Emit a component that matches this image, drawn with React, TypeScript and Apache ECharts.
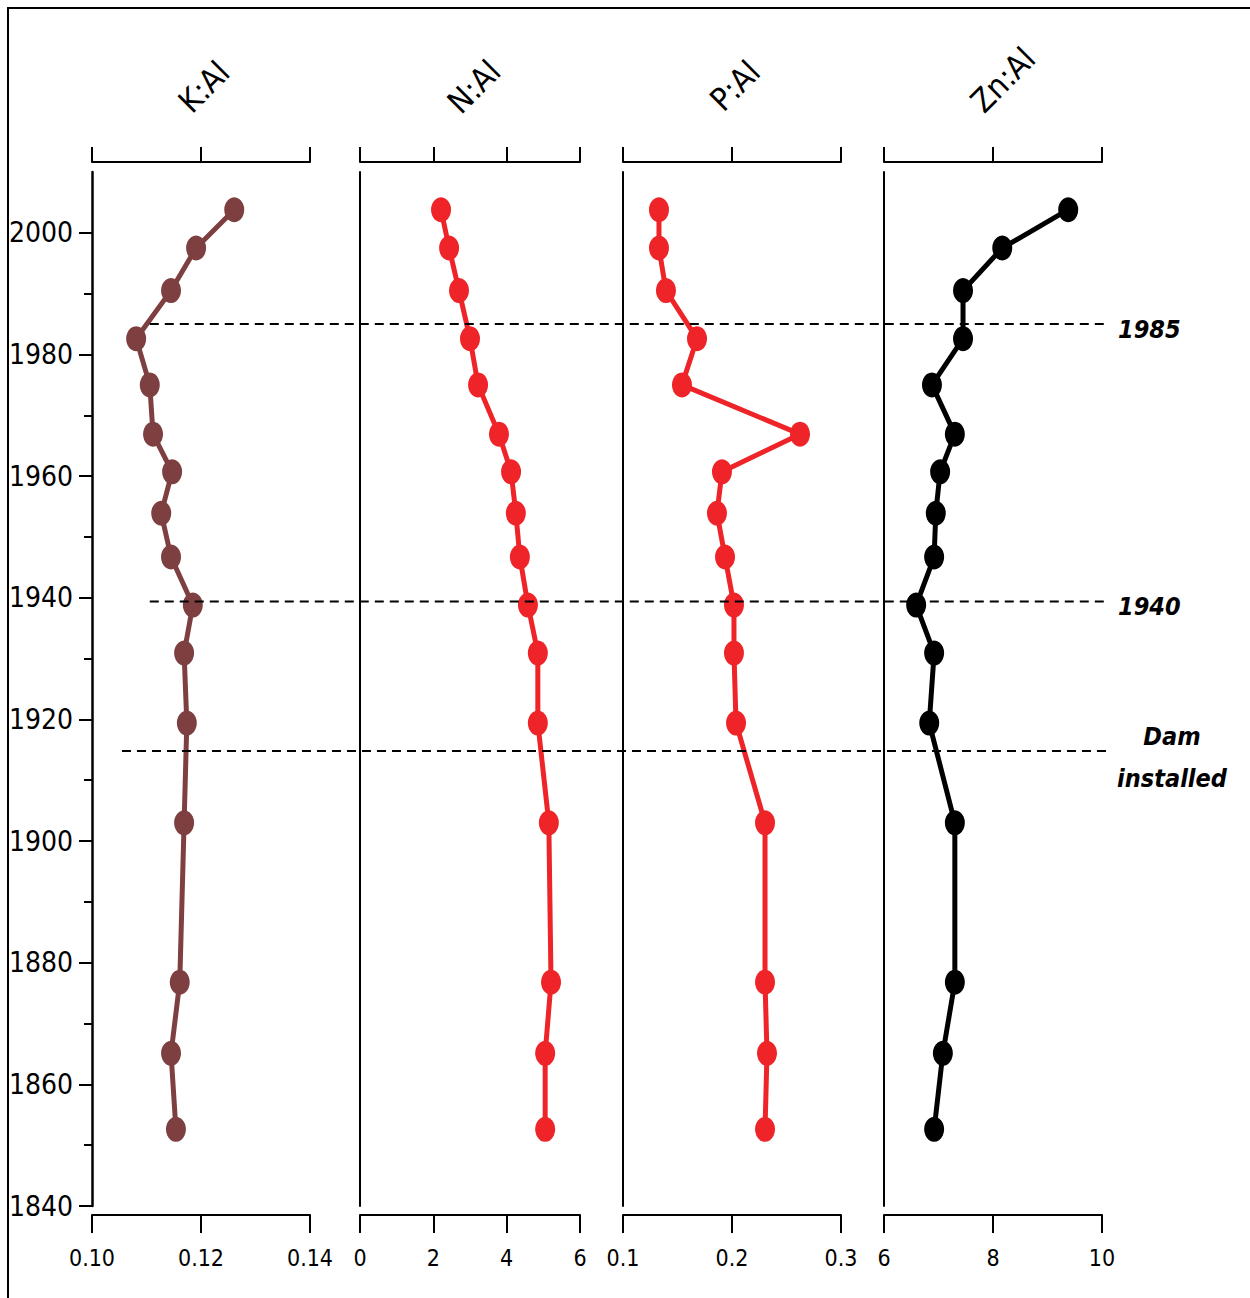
import React, { useEffect, useRef } from "react";
import * as echarts from "echarts";

// ---- data ----
const years = [2003.8, 1997.5, 1990.5, 1982.6, 1975.0, 1966.9, 1960.7, 1953.9, 1946.7, 1938.8, 1930.9, 1919.4, 1903.0, 1876.8, 1865.1, 1852.6];
const kAl = [0.1261, 0.1191, 0.1145, 0.1081, 0.1106, 0.1112, 0.1147, 0.1127, 0.1145, 0.1185, 0.1169, 0.1174, 0.1169, 0.1161, 0.1145, 0.1154];
const nAl = [2.21, 2.43, 2.7, 3.0, 3.22, 3.79, 4.12, 4.25, 4.36, 4.58, 4.85, 4.85, 5.15, 5.21, 5.05, 5.05];
const pAl = [0.133, 0.133, 0.1394, 0.1679, 0.1541, 0.2624, 0.1908, 0.1862, 0.1936, 0.2018, 0.2018, 0.2037, 0.2303, 0.2303, 0.2321, 0.2303];
const znAl = [9.38, 8.17, 7.45, 7.45, 6.88, 7.3, 7.03, 6.95, 6.92, 6.59, 6.92, 6.83, 7.3, 7.3, 7.08, 6.92];

const panelTitles = ["K:Al", "N:Al", "P:Al", "Zn:Al"];
const panelSeries = [kAl, nAl, pAl, znAl];
const panelColors = ["#7e3f40", "#ee2428", "#ee2428", "#000000"];
const xMins = [0.1, 0, 0.1, 6];
const xMaxs = [0.14, 6, 0.3, 10];
const xIntervals = [0.02, 2, 0.1, 2];
const xDecimals = [2, 0, 1, 0];

const yearMin = 1840;
const yearMax = 2010;
const yearLabelTicks = [1840, 1860, 1880, 1900, 1920, 1940, 1960, 1980, 2000];
const yearMinorTicks = [1850, 1870, 1890, 1910, 1930, 1950, 1970, 1990];

const eventYears = [1985, 1939.4, 1914.8];
const eventLabels = ["1985", "1940", "Dam\ninstalled"];
const eventStartK = [0.1106, 0.1106, 0.1055];
const eventEndZn = [10.05, 10.05, 10.15];

// ---- layout (not data) ----
const W = 1250;
const H = 1298;
const panelLefts = [92, 360, 623, 884];
const panelWidths = [218, 220, 218, 218];
const gridTop = 172;
const gridHeight = 1034;
const FONT = "'DejaVu Sans Condensed', 'Liberation Sans', sans-serif";

export default function App() {
  const ref = useRef<HTMLDivElement>(null);

  useEffect(() => {
    if (!ref.current) return;
    const chart = echarts.init(ref.current, null, { renderer: "svg", width: W, height: H });

    const grids = panelLefts.map((l, i) => ({
      left: l,
      top: gridTop,
      width: panelWidths[i],
      height: gridHeight,
      containLabel: false,
      outerBoundsMode: "none",
    }));

    const xAxes: any[] = [];
    for (let i = 0; i < 4; i++) {
      // bottom axis (labels)
      xAxes.push({
        type: "value",
        gridIndex: i,
        position: "bottom",
        offset: 9,
        min: xMins[i],
        max: xMaxs[i],
        interval: xIntervals[i],
        axisLine: { show: true, lineStyle: { color: "#000", width: 2 } },
        axisTick: { show: true, inside: false, length: 18, lineStyle: { color: "#000", width: 2 } },
        axisLabel: {
          show: true,
          margin: 31,
          color: "#000",
          fontSize: 23,
          fontFamily: FONT,
          formatter: (v: number) => v.toFixed(xDecimals[i]),
        },
        splitLine: { show: false },
      });
      // top axis (ticks only)
      xAxes.push({
        type: "value",
        gridIndex: i,
        position: "top",
        offset: 10,
        min: xMins[i],
        max: xMaxs[i],
        interval: xIntervals[i],
        axisLine: { show: true, lineStyle: { color: "#000", width: 2 } },
        axisTick: { show: true, inside: false, length: 15, lineStyle: { color: "#000", width: 2 } },
        axisLabel: { show: false },
        splitLine: { show: false },
      });
    }

    const yAxes: any[] = [
      {
        type: "value",
        gridIndex: 0,
        position: "left",
        min: yearMin,
        max: yearMax,
        axisLine: { show: true, lineStyle: { color: "#000", width: 2.5 } },
        axisTick: {
          show: true,
          length: 13,
          customValues: yearLabelTicks,
          lineStyle: { color: "#000", width: 2 },
        },
        axisLabel: {
          show: true,
          margin: 19,
          color: "#000",
          fontSize: 28,
          fontFamily: FONT,
          customValues: yearLabelTicks,
          formatter: (v: number) => String(v),
        },
        splitLine: { show: false },
      },
      {
        type: "value",
        gridIndex: 0,
        position: "left",
        min: yearMin,
        max: yearMax,
        axisLine: { show: false },
        axisTick: {
          show: true,
          length: 8,
          customValues: yearMinorTicks,
          lineStyle: { color: "#000", width: 2 },
        },
        axisLabel: { show: false, customValues: yearMinorTicks },
        splitLine: { show: false },
      },
    ];
    for (let i = 1; i < 4; i++) {
      yAxes.push({
        type: "value",
        gridIndex: i,
        position: "left",
        min: yearMin,
        max: yearMax,
        axisLine: { show: true, lineStyle: { color: "#000", width: 2 } },
        axisTick: { show: false },
        axisLabel: { show: false },
        splitLine: { show: false },
      });
    }

    const series = panelSeries.map((vals, i) => ({
      type: "line",
      name: panelTitles[i],
      xAxisIndex: i * 2,
      yAxisIndex: i === 0 ? 0 : i + 1,
      data: years.map((y, k) => [vals[k], y]),
      symbol: "circle",
      symbolSize: [20, 25],
      showSymbol: true,
      clip: false,
      silent: true,
      z: 3,
      lineStyle: { color: panelColors[i], width: 5 },
      itemStyle: { color: panelColors[i], borderWidth: 0 },
      emphasis: { disabled: true },
    }));

    chart.setOption({
      animation: false,
      backgroundColor: "#fff",
      grid: grids,
      xAxis: xAxes,
      yAxis: yAxes,
      series,
    });

    const yPix = (yr: number) => chart.convertToPixel({ yAxisIndex: 0 } as any, yr) as number;
    const xPix = (panel: number, v: number) => chart.convertToPixel({ xAxisIndex: panel * 2 } as any, v) as number;

    const graphics: any[] = [
      { type: "line", z: 20, shape: { x1: 7, y1: 8, x2: W, y2: 8 }, style: { stroke: "#000", lineWidth: 2 } },
      { type: "line", z: 20, shape: { x1: 8, y1: 8, x2: 8, y2: H }, style: { stroke: "#000", lineWidth: 2 } },
    ];

    const titleOffsets = [[3, 87], [4, 87], [3, 86], [10, 80]];
    panelTitles.forEach((t, i) => {
      const cx = xPix(i, (xMins[i] + xMaxs[i]) / 2);
      graphics.push({
        type: "text",
        x: cx + titleOffsets[i][0],
        y: titleOffsets[i][1],
        rotation: Math.PI / 4,
        z: 20,
        style: {
          text: t,
          fill: "#000",
          fontSize: 32,
          fontFamily: FONT,
          align: "center",
          verticalAlign: "middle",
        },
      });
    });

    eventYears.forEach((yr, i) => {
      const y = yPix(yr);
      const x1 = xPix(0, eventStartK[i]);
      const x2 = xPix(3, eventEndZn[i]);
      graphics.push({
        type: "line",
        z: 20,
        shape: { x1, y1: y, x2, y2: y },
        style: { stroke: "#000", lineWidth: 2, lineDash: [9, 6] },
      });
      const axisEnd = xPix(3, xMaxs[3]);
      const isMulti = eventLabels[i].includes("\n");
      graphics.push({
        type: "text",
        z: 20,
        x: isMulti ? axisEnd + 70 : axisEnd + 16,
        y: isMulti ? y + 6 : y + 5,
        style: {
          text: eventLabels[i],
          fill: "#000",
          fontSize: 25,
          fontWeight: "bold",
          fontStyle: "italic",
          fontFamily: FONT,
          align: isMulti ? "center" : "left",
          verticalAlign: "middle",
          lineHeight: 42,
        },
      });
    });

    chart.setOption({ graphic: graphics });

    return () => chart.dispose();
  }, []);

  return (
    <div
      ref={ref}
      style={{ position: "absolute", left: 0, top: 0, width: W, height: H, background: "#fff" }}
    />
  );
}
